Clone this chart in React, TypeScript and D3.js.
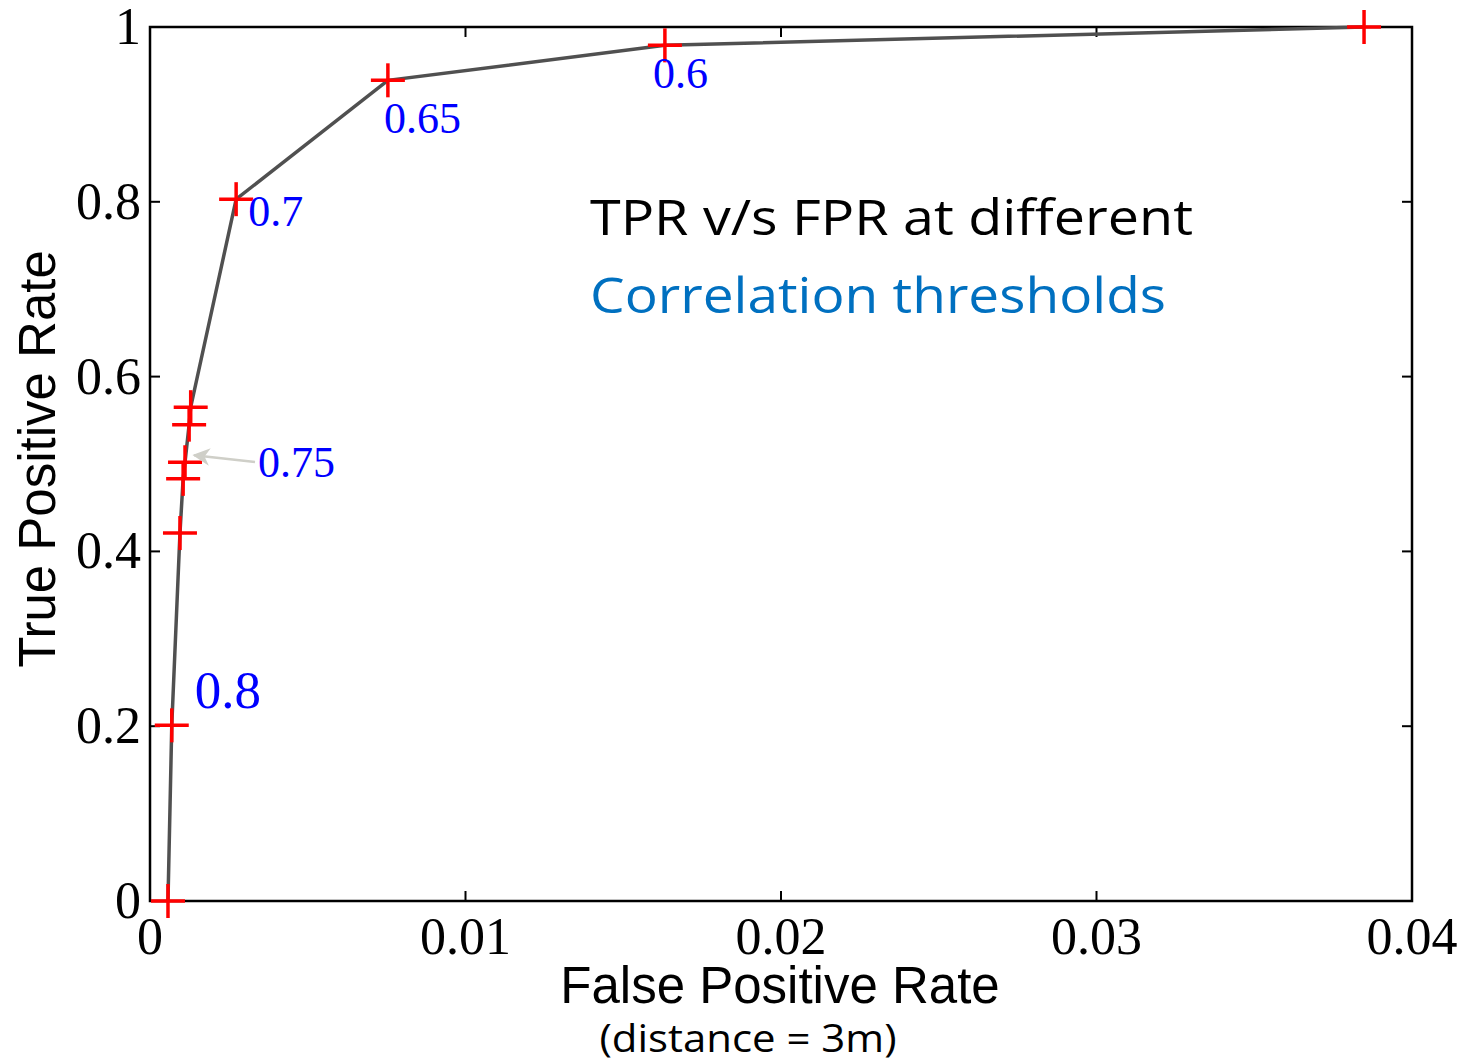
import React from "react";
import * as d3 from "d3";

// ROC points (FPR, TPR)
const fpr = [0.00057, 0.00069, 0.00095, 0.00105, 0.00111, 0.00124, 0.00129, 0.00273, 0.00754, 0.01632, 0.03848];
const tpr = [0.0, 0.201, 0.421, 0.483, 0.502, 0.545, 0.565, 0.803, 0.939, 0.979, 1.0];

const xTicks = [0, 0.01, 0.02, 0.03, 0.04];
const xTickLabels = ["0", "0.01", "0.02", "0.03", "0.04"];
const yTicks = [0, 0.2, 0.4, 0.6, 0.8, 1];
const yTickLabels = ["0", "0.2", "0.4", "0.6", "0.8", "1"];

// threshold labels: text, anchor point index
const thrLabels = ["0.8", "0.75", "0.7", "0.65", "0.6"];
const thrIndex = [1, 4, 7, 8, 9];

const W = 1467;
const H = 1064;
const margin = { left: 150, right: 55, top: 27, bottom: 163 };

export default function App() {
  const x = d3.scaleLinear().domain([0, 0.04]).range([margin.left, W - margin.right]);
  const y = d3.scaleLinear().domain([0, 1]).range([H - margin.bottom, margin.top]);

  const pts = fpr.map((f, i) => ({ f, t: tpr[i] }));
  const line = d3.line<{ f: number; t: number }>().x(d => x(d.f)).y(d => y(d.t));

  const serif = "'Liberation Serif', 'Times New Roman', serif";
  const sans = "'Liberation Sans', Arial, sans-serif";
  const calib = "'Open Sans', 'Noto Sans', sans-serif";
  const tickLen = 10;
  const cross = 17;

  // offsets of each threshold label from its point (px)
  const labelDx = [23, 73, 12, -4, -12];
  const labelDy = [-17, 15, 27, 53, 43];
  const labelSize = [53, 44, 44, 44, 44];

  const x0 = x.range()[0], x1 = x.range()[1];
  const y0 = y.range()[0], y1 = y.range()[1];

  const arrowFrom = { px: 255, py: 462 };
  const arrowTo = { px: x(fpr[5]) + 5, py: y(0.51) };

  return (
    <svg width={W} height={H} style={{ position: "absolute", left: 0, top: 0, background: "#fff" }}>
      <defs>
        <marker id="ah" viewBox="0 0 10 10" refX="9" refY="5" markerWidth="7" markerHeight="7" orient="auto">
          <path d="M0,0 L10,5 L0,10 L3,5 Z" fill="#cfcfc8" />
        </marker>
      </defs>

      {/* ticks inward on all four sides */}
      {xTicks.map((t, i) => (
        <g key={"xt" + i}>
          <line x1={x(t)} x2={x(t)} y1={y0} y2={y0 - tickLen} stroke="#000" strokeWidth={2} />
          <line x1={x(t)} x2={x(t)} y1={y1} y2={y1 + tickLen} stroke="#000" strokeWidth={2} />
          <text x={x(t)} y={954} fontFamily={serif} fontSize={52} textAnchor="middle">{xTickLabels[i]}</text>
        </g>
      ))}
      {yTicks.map((t, i) => (
        <g key={"yt" + i}>
          <line x1={x0} x2={x0 + tickLen} y1={y(t)} y2={y(t)} stroke="#000" strokeWidth={2} />
          <line x1={x1} x2={x1 - tickLen} y1={y(t)} y2={y(t)} stroke="#000" strokeWidth={2} />
          <text x={141} y={y(t) + 17} fontFamily={serif} fontSize={52} textAnchor="end">{yTickLabels[i]}</text>
        </g>
      ))}

      <rect x={x0} y={y1} width={x1 - x0} height={y0 - y1} fill="none" stroke="#000" strokeWidth={2.5} />

      <path d={line(pts) || ""} fill="none" stroke="#505050" strokeWidth={3.5} />

      {pts.map((d, i) => (
        <g key={"p" + i} stroke="#ff0000" strokeWidth={3.5}>
          <line x1={x(d.f) - cross} x2={x(d.f) + cross} y1={y(d.t)} y2={y(d.t)} />
          <line x1={x(d.f)} x2={x(d.f)} y1={y(d.t) - cross} y2={y(d.t) + cross} />
        </g>
      ))}

      {thrLabels.map((s, i) => {
        const d = pts[thrIndex[i]];
        return (
          <text key={"l" + i} x={x(d.f) + labelDx[i]} y={y(d.t) + labelDy[i]} fill="#0000ff"
            fontFamily={serif} fontSize={labelSize[i]}>{s}</text>
        );
      })}

      <line x1={arrowFrom.px} y1={arrowFrom.py} x2={arrowTo.px} y2={arrowTo.py}
        stroke="#cfcfc8" strokeWidth={2.5} markerEnd="url(#ah)" />

      <text x={590} y={235} fontFamily={calib} fontSize={50} fill="#000" textLength={603} lengthAdjust="spacingAndGlyphs">TPR v/s FPR at different</text>
      <text x={590} y={313} fontFamily={calib} fontSize={50} fill="#0070c0" textLength={576} lengthAdjust="spacingAndGlyphs">Correlation thresholds</text>

      <text x={780} y={1003} fontFamily={sans} fontSize={51} textAnchor="middle">False Positive Rate</text>
      <text x={748} y={1052} fontFamily={calib} fontSize={38} textAnchor="middle" textLength={297} lengthAdjust="spacingAndGlyphs">(distance = 3m)</text>
      <text transform={`translate(55,459) rotate(-90)`} fontFamily={sans} fontSize={51} textAnchor="middle">True Positive Rate</text>
    </svg>
  );
}
